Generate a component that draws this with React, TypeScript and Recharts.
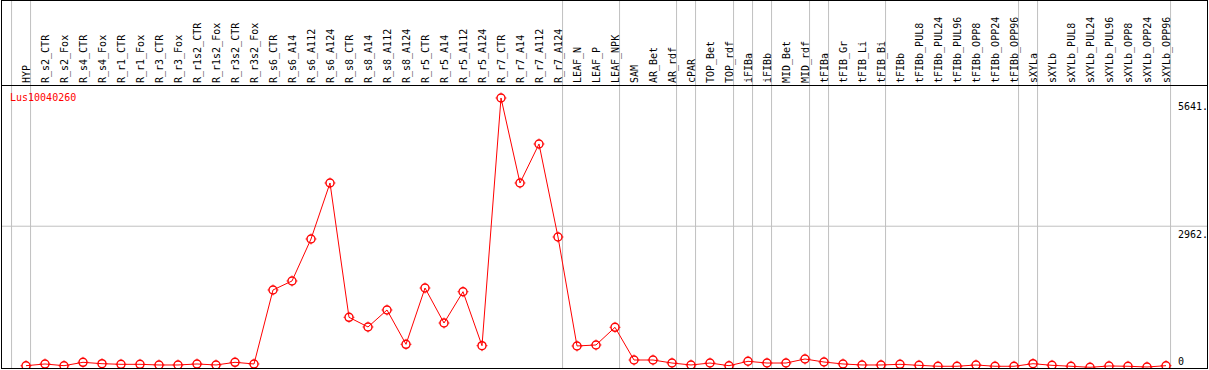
import { LineChart, Line, XAxis, YAxis, ReferenceLine } from "recharts";

const categories = [
  "HYP", "R_s2_CTR", "R_s2_Fox", "R_s4_CTR", "R_s4_Fox", "R_r1_CTR", "R_r1_Fox",
  "R_r3_CTR", "R_r3_Fox", "R_r1s2_CTR", "R_r1s2_Fox", "R_r3s2_CTR", "R_r3s2_Fox",
  "R_s6_CTR", "R_s6_A14", "R_s6_A112", "R_s6_A124", "R_s8_CTR", "R_s8_A14",
  "R_s8_A112", "R_s8_A124", "R_r5_CTR", "R_r5_A14", "R_r5_A112", "R_r5_A124",
  "R_r7_CTR", "R_r7_A14", "R_r7_A112", "R_r7_A124", "LEAF_N", "LEAF_P", "LEAF_NPK",
  "SAM", "AR_Bet", "AR_rdf", "cPAR", "TOP_Bet", "TOP_rdf", "iFIBa", "iFIBb",
  "MID_Bet", "MID_rdf", "tFIBa", "tFIB_Gr", "tFIB_Li", "tFIB_Bi", "tFIBb",
  "tFIBb_PUL8", "tFIBb_PUL24", "tFIBb_PUL96", "tFIBb_OPP8", "tFIBb_OPP24",
  "tFIBb_OPP96", "sXYLa", "sXYLb", "sXYLb_PUL8", "sXYLb_PUL24", "sXYLb_PUL96",
  "sXYLb_OPP8", "sXYLb_OPP24", "sXYLb_OPP96",
];

const expression = [
  48, 84, 48, 119, 90, 77, 77, 63, 63, 84, 63, 119, 84,
  1630, 1818, 2695, 3865, 1059, 857, 1212, 495, 1671, 940, 1594, 466,
  5641, 3865, 4680, 2737, 460, 481, 850,
  167, 167, 104, 63, 104, 48, 140, 104, 104, 188, 125, 84, 63, 63, 77,
  56, 36, 36, 63, 36, 36, 90, 56, 36, 15, 42, 36, 21, 48,
];

// position (1-based) of the last sample in each group; 0 = left edge separator
const groupEnds = [0, 1, 29, 32, 35, 36, 38, 39, 40, 42, 43, 46, 53, 54, 61];
const yTicks = [0, 2962, 5641];
const gridValue = 2962;
const yMax = 7667;
const geneId = "Lus10040260";

const data = categories.map((name, i) => ({ pos: i + 1, name, value: expression[i] }));

const FONT = "'DejaVu Sans Mono', monospace";
const RED = "#ff0000";
const GRAY = "#c0c0c0";

function CategoryTick({ x, payload }: any) {
  return (
    <text
      transform={`translate(${x + 4}, 83) rotate(-90)`}
      fontSize={10}
      fontFamily={FONT}
      fill="#000"
    >
      {categories[payload.value - 1]}
    </text>
  );
}

function ValueTick({ y, payload }: any) {
  const dy = payload.value === 0 ? -3 : 12;
  return (
    <text x={1178} y={y + dy} fontSize={10} fontFamily={FONT} fill="#000">
      {payload.value === 0 ? "0" : `${payload.value}.`}
    </text>
  );
}

function RingDot({ cx, cy }: any) {
  if (cx == null || cy == null) return null;
  return (
    <g>
      <circle cx={cx} cy={cy} r={4} fill="none" stroke={RED} strokeWidth={1.4} />
      <line x1={cx} y1={cy - 5.5} x2={cx} y2={cy + 5.5} stroke={RED} strokeWidth={0.8} strokeDasharray="1.5 8 1.5" />
      <line x1={cx - 5.5} y1={cy} x2={cx + 5.5} y2={cy} stroke={RED} strokeWidth={0.8} strokeDasharray="1.5 8 1.5" />
    </g>
  );
}

export default function App() {
  return (
    <div style={{ position: "absolute", left: 0, top: 0, width: 1209, height: 370, background: "#fff" }}>
      <LineChart
        width={1209}
        height={370}
        data={data}
        margin={{ top: 0, right: 1, bottom: 2, left: 1 }}
      >
        <XAxis
          type="number"
          dataKey="pos"
          orientation="top"
          height={1}
          domain={[-6 / 19, 1200 / 19]}
          ticks={data.map((d) => d.pos)}
          interval={0}
          axisLine={false}
          tickLine={false}
          tick={<CategoryTick />}
          allowDataOverflow
        />
        <YAxis
          orientation="right"
          width={1}
          domain={[0, yMax]}
          ticks={yTicks}
          interval={0}
          axisLine={false}
          tickLine={false}
          tick={<ValueTick />}
          allowDataOverflow
        />
        {groupEnds.map((g) => (
          <ReferenceLine key={`sep-${g}`} x={g + 0.24} stroke={GRAY} strokeWidth={1} ifOverflow="visible" />
        ))}
        <ReferenceLine y={gridValue} stroke={GRAY} strokeWidth={1} />
        <Line
          type="linear"
          dataKey="value"
          stroke={RED}
          strokeWidth={1}
          dot={<RingDot />}
          activeDot={false}
          isAnimationActive={false}
        />
      </LineChart>
      <svg
        width={1209}
        height={370}
        style={{ position: "absolute", left: 0, top: 0, pointerEvents: "none" }}
      >
        <rect x={1.5} y={0.5} width={1206} height={368} fill="none" stroke="#000" strokeWidth={1} />
        <line x1={1} y1={85.5} x2={1208} y2={85.5} stroke="#000" strokeWidth={1} />
        <text x={10} y={101} fontSize={10} fontFamily={FONT} fill={RED}>
          {geneId}
        </text>
      </svg>
    </div>
  );
}
